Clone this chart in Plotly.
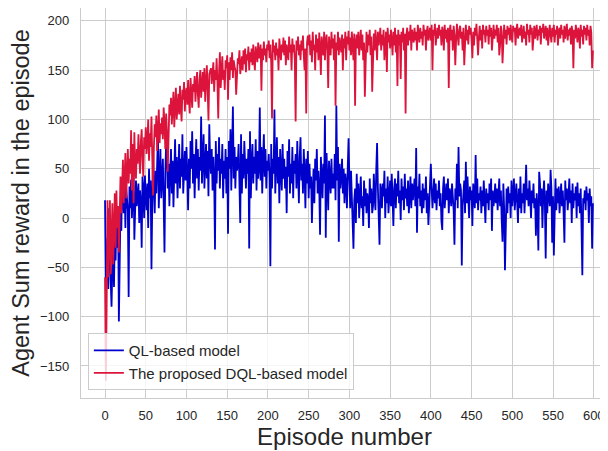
import plotly.graph_objects as go

episodes = list(range(600))

ql_reward = [
    18, -76, -57, -20, -72, 10, -40, -60, -90, -49,
    -20, -70, -16, -43, 5, -30, 12, -105, -30, 11,
    -13, 40, 20, 5, 36, -10, 30, 15, 8, -80,
    32, 10, 39, 0, 25, 45, -22, 30, 38, 12,
    20, 35, -5, 28, 15, -30, 42, 30, 0, 43,
    22, 8, 35, -10, 50, 20, 38, -52, 15, 66,
    30, 5, 48, 25, 55, 86, 10, 40, 70, 20,
    35, 60, 15, -35, 45, 75, 68, 30, 55, 12,
    48, 70, 25, 58, 11, 40, 80, 35, 62, 20,
    52, 75, 30, 60, 42, 85, 25, 50, 68, 38,
    72, 45, 8, 60, 30, 78, 50, 88, 35, 65,
    20, 55, 80, 40, 70, 28, 62, 48, 103, 35,
    60, 85, 30, 55, 75, 40, 68, 22, 95, 60,
    45, 70, 28, 62, 40, -32, 78, 35, 65, 48,
    82, 30, 60, 45, 75, 20, 58, 40, 70, 25,
    62, -16, 78, 50, 90, 28, 60, 113, 40, 72,
    30, 62, 48, 55, 75, 35, -5, 85, 25, 65,
    40, 78, 52, 30, 60, 45, 70, -31, 88, 20,
    55, 75, 35, 62, 45, 80, 28, 68, 40, 50,
    112, 38, 72, 25, 60, 85, 42, 70, 30, 58,
    48, 65, 40, -49, 75, 30, 60, 45, 110, 25,
    55, 82, 35, 62, 15, 70, 48, 28, 75, 40,
    60, 30, 52, 5, 68, 42, 80, 25, 55, 35,
    72, 20, 58, 45, 65, 30, 78, 50, 15, 62,
    82, 38, 55, 25, 70, 45, 10, 60, 35, 68,
    20, 55, 30, 42, -5, 28, 50, 15, 60, 38,
    70, 25, 48, 30, -17, 62, 40, 20, 55, 35,
    104, -20, 66, 35, 8, 58, 42, 25, 60, 30,
    45, 30, 65, 18, 114, 38, 72, -24, 55, 30,
    42, 60, 25, 50, 15, 45, 35, 10, 52, 81,
    38, 10, 48, 25, 5, -31, 18, 30, -5, 45,
    15, 35, 0, 28, 42, 10, 22, -8, 38, 12,
    30, 5, 25, 18, -10, 40, 15, 30, 5, 12,
    45, 20, 8, 50, 76, 30, 5, -27, 35, 28,
    10, 35, 22, 48, 0, 30, 15, 42, 5, 25,
    38, 12, 45, 20, -8, 30, 40, 10, 35, 22,
    48, 15, 28, -2, 40, 18, 32, 8, 45, 20,
    30, 12, 38, 5, 25, 42, 10, 35, 18, 28,
    40, 12, 71, -15, 32, 20, 45, 12, 28, 5,
    35, 10, 30, 18, 42, 5, 25, -7, 15, 22,
    55, 30, 10, 25, 40, 15, 35, 8, 28, 20,
    38, 12, 25, -3, -12, 30, 42, 10, 22, 35,
    18, 40, 5, 30, 25, 12, 35, 20, 8, -27,
    30, 18, 55, 10, 72, 22, 35, 28, -48, 12,
    25, 38, 5, 57, 15, 42, 20, 0, 32, 18,
    28, -8, 35, 20, 10, 64, 15, 40, 8, 25,
    18, 32, 5, 28, 12, 38, 22, -5, 30, 15,
    25, 8, 35, 18, 40, -13, 28, 12, 20, 35,
    15, 30, 8, 25, 40, 12, 28, -2, -24, 35,
    10, -53, 18, 30, 5, 32, 15, 25, 0, 38,
    12, 28, 40, 8, 22, 35, 15, -5, 30, 10,
    42, 5, 25, 15, 35, 5, 28, 54, 18, 30,
    12, 38, 22, 0, 28, 15, 35, 10, 20, -18,
    25, 8, -33, 47, 35, 12, 30, -10, 22, 38,
    15, -41, 28, 5, 35, 20, 12, 49, 30, -25,
    22, -38, 18, 40, 8, 30, 15, 32, 5, 25,
    35, 12, 28, 5, -25, 38, 18, 30, 8, 22,
    40, 15, 28, -5, 35, 10, 25, 18, 32, 0,
    36, 12, 25, 5, 30, -10, -58, 20, 15, 28,
    8, 32, 18, 25, -5, 30, 12, 22, -31, 15,
]

dql_reward = [
    -60, -165, -90, 18, -60, -25, 18, -57, -9, 15,
    -47, 1, 25, -30, 28, -10, 12, -35, 22, 42,
    5, 30, 59, 15, 45, 66, 20, 55, 70, 35,
    60, 45, 89, 28, 75, 15, 87, 52, 40, 70,
    55, 85, 60, 45, 78, 90, 58, 42, 82, 70,
    92, 65, 78, 100, 58, 86, 72, 103, 62, 23,
    72, 95, 82, 104, 68, 92, 110, 76, 96, 85,
    102, 80, 112, 95, 70, 106, 88, 47, 100, 115,
    104, 122, 95, 112, 128, 92, 116, 132, 100, 120,
    126, 105, 134, 112, 98, 130, 120, 138, 108, 126,
    132, 115, 140, 120, 106, 142, 126, 112, 136, 128,
    144, 118, 134, 148, 125, 112, 140, 150, 122, 136,
    148, 128, 152, 118, 142, 155, 130, 99, 146, 150,
    152, 136, 144, 158, 128, 150, 140, 162, 138, 101,
    148, 168, 132, 155, 164, 140, 150, 130, 160, 152,
    165, 120, 158, 140, 163, 150, 168, 142, 160, 154,
    150, 125, 140, 162, 156, 170, 146, 160, 164, 150,
    170, 156, 172, 148, 166, 160, 174, 150, 168, 158,
    172, 155, 176, 160, 150, 174, 165, 158, 178, 162,
    168, 176, 129, 172, 160, 179, 165, 172, 158, 176,
    170, 180, 162, 176, 158, 101, 181, 168, 175, 160,
    178, 165, 172, 150, 182, 170, 160, 176, 168, 183,
    165, 180, 155, 176, 170, 160, 184, 168, 176, 150,
    182, 168, 176, 160, 98, 180, 170, 184, 165, 176,
    160, 180, 170, 185, 165, 150, 172, 106, 178, 185,
    175, 186, 165, 180, 158, 189, 170, 176, 150, 186,
    168, 182, 160, 188, 172, 145, 184, 176, 165, 189,
    160, 180, 186, 170, 132, 184, 176, 165, 189, 172,
    182, 160, 186, 114, 178, 170, 189, 165, 183, 176,
    168, 186, 150, 182, 172, 189, 160, 184, 176, 190,
    170, 183, 165, 189, 176, 160, 187, 114, 178, 186,
    172, 189, 165, 181, 191, 170, 186, 160, 178, 123,
    180, 189, 168, 186, 175, 191, 165, 184, 128, 172,
    187, 170, 191, 178, 160, 189, 175, 183, 193, 170,
    186, 175, 191, 160, 182, 189, 148, 193, 178, 186,
    172, 191, 180, 165, 189, 175, 193, 168, 186, 134,
    191, 175, 186, 141, 189, 178, 193, 170, 187, 106,
    186, 193, 175, 189, 180, 196, 170, 191, 184, 178,
    193, 180, 189, 170, 196, 185, 178, 193, 182, 189,
    175, 196, 185, 191, 170, 189, 195, 180, 187, 193,
    180, 196, 150, 191, 185, 197, 175, 189, 193, 182,
    196, 185, 191, 175, 194, 188, 170, 196, 182, 191,
    178, 193, 132, 189, 196, 180, 191, 170, 195, 186,
    155, 180, 197, 185, 175, 191, 195, 182, 189, 170,
    193, 155, 189, 196, 180, 191, 176, 195, 186, 193,
    180, 162, 189, 175, 193, 185, 197, 178, 165, 184,
    195, 180, 191, 172, 196, 186, 191, 178, 195, 185,
    191, 176, 196, 184, 193, 170, 189, 196, 182, 191,
    185, 196, 178, 193, 165, 175, 195, 189, 157, 191,
    196, 182, 191, 176, 195, 186, 193, 180, 196, 185,
    178, 195, 189, 193, 175, 191, 197, 182, 189, 193,
    185, 196, 178, 191, 195, 182, 189, 175, 197, 186,
    191, 178, 196, 186, 193, 170, 191, 195, 182, 189,
    196, 180, 191, 185, 195, 176, 193, 188, 197, 182,
    189, 195, 180, 193, 175, 191, 196, 185, 178, 193,
    184, 196, 178, 191, 186, 195, 175, 189, 193, 182,
    196, 186, 191, 178, 195, 182, 189, 197, 180, 191,
    185, 193, 176, 195, 188, 152, 191, 182, 196, 186,
    178, 193, 188, 172, 196, 184, 191, 176, 195, 186,
    193, 180, 196, 185, 191, 175, 195, 188, 152, 170,
]

x_ticks = list(range(0, 601, 50))
y_ticks = [-150, -100, -50, 0, 50, 100, 150, 200]

FONT = "Liberation Sans, Arial, Helvetica, sans-serif"
TXT = "#262626"
GRID = "#cccccc"

fig = go.Figure()
fig.add_trace(go.Scatter(x=episodes, y=ql_reward, mode="lines", name="QL-based model",
                         line=dict(color="#0000CD", width=1.8)))
fig.add_trace(go.Scatter(x=episodes, y=dql_reward, mode="lines", name="The proposed DQL-based model",
                         line=dict(color="#DC143C", width=1.8)))

# page body has an 8px margin, so the figure is sized/offset to compensate
fig.update_layout(
    width=600, height=443,
    margin=dict(l=73, r=0, t=0, b=53),
    paper_bgcolor="white", plot_bgcolor="white",
    font=dict(family=FONT, color=TXT, size=13),
    showlegend=True,
    legend=dict(x=0.013, y=0.02, xanchor="left", yanchor="bottom",
                bgcolor="rgba(255,255,255,0.8)", bordercolor=GRID, borderwidth=1,
                font=dict(size=15, color=TXT), tracegroupgap=0, itemwidth=30),
)
fig.update_xaxes(
    range=[-29.5, 617.5], tickvals=x_ticks, ticktext=[str(v) for v in x_ticks],
    showgrid=True, gridcolor=GRID, gridwidth=1.2, zeroline=False,
    showline=True, linecolor=GRID, linewidth=1.3, mirror=True,
    ticks="outside", ticklen=5, tickcolor="rgba(0,0,0,0)",
    tickfont=dict(size=13, color=TXT),
    title=dict(text="Episode number", font=dict(size=24, color=TXT), standoff=2),
)
fig.update_yaxes(
    range=[-182.5, 213], tickvals=y_ticks, ticktext=[str(v).replace("-", "\u2212") for v in y_ticks],
    showgrid=True, gridcolor=GRID, gridwidth=1.2, zeroline=False,
    showline=True, linecolor=GRID, linewidth=1.3, mirror=True,
    ticks="outside", ticklen=8, tickcolor="rgba(0,0,0,0)",
    tickfont=dict(size=13, color=TXT),
    title=dict(text="Agent Sum reward in the episode", font=dict(size=23.5, color=TXT), standoff=6),
)

fig.write_html("out.html")
